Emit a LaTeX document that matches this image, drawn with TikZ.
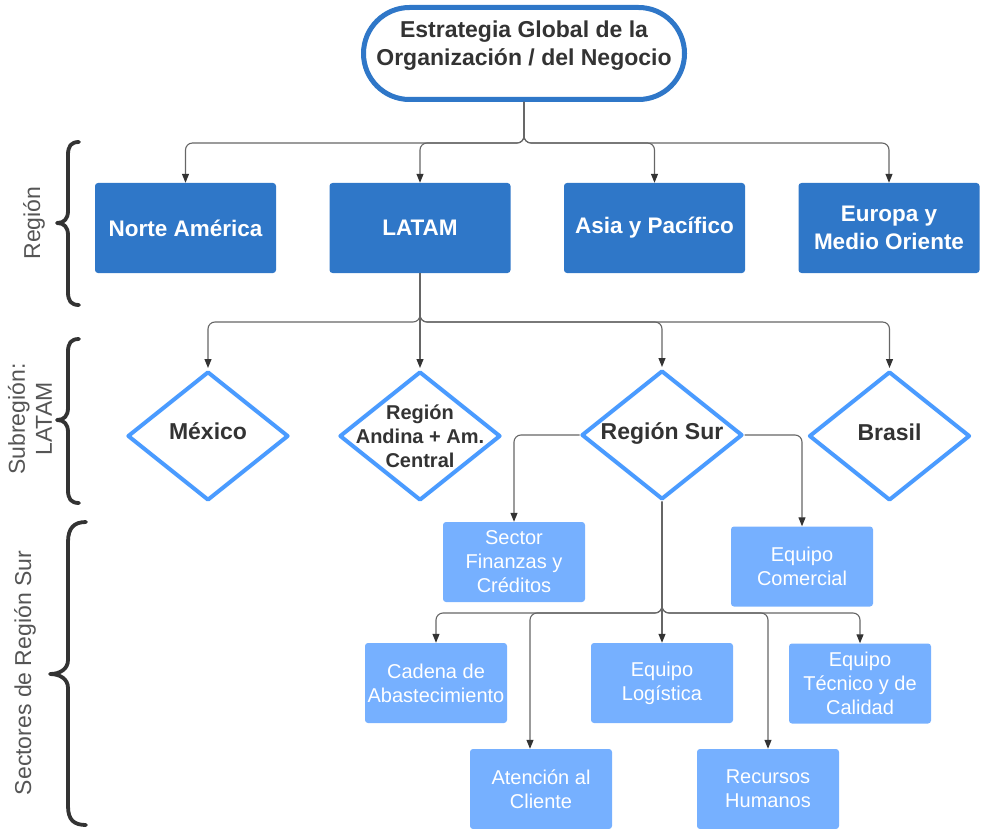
\documentclass[tikz,border=0pt]{standalone}
\usepackage{fontspec}
\setmainfont{Liberation Sans}
\usetikzlibrary{shapes.geometric,shapes.misc,arrows.meta}
\definecolor{deepblue}{HTML}{2F77C8}
\definecolor{lightblue}{HTML}{76B0FF}
\definecolor{edgeblue}{HTML}{4A9BFF}
\definecolor{ink}{HTML}{333333}
\definecolor{wire}{HTML}{666666}
\definecolor{sidegray}{HTML}{555555}

\begin{document}
\begin{tikzpicture}[x=1pt,y=-1pt,
  goal/.style={rounded rectangle, draw=deepblue, line width=5pt, fill=white,
    minimum width=321pt, minimum height=92pt, inner sep=0pt},
  goaltxt/.style={text=ink, font=\fontsize{23}{28}\selectfont\bfseries, align=center},
  regionbox/.style={rectangle, rounded corners=3pt, fill=deepblue,
    minimum width=181pt, minimum height=90pt, inner sep=2pt, text=white,
    font=\fontsize{22.5}{28}\selectfont\bfseries, align=center},
  dmd/.style={diamond, draw=edgeblue, line width=4pt, line join=round, fill=white,
    minimum width=161pt, minimum height=129pt, inner sep=0pt},
  dtxt/.style={text=ink, font=\fontsize{23}{28}\selectfont\bfseries, align=center, inner sep=0pt},
  dtxtsmall/.style={text=ink, font=\fontsize{20}{24}\selectfont\bfseries, align=center, inner sep=0pt},
  lightbox/.style={rectangle, rounded corners=3pt, fill=lightblue,
    minimum width=142pt, minimum height=80pt, inner sep=2pt, text=white,
    font=\fontsize{20}{24}\selectfont, align=center},
  conn/.style={draw=wire, line width=1.1pt, rounded corners=7pt,
    -{Triangle[length=9pt,width=7pt,color=ink]}},
  bracket/.style={draw=ink, line width=3.8pt, line cap=round, line join=round},
  sidelabel/.style={rotate=90, text=sidegray, font=\fontsize{23}{27}\selectfont, align=center}
]
\useasboundingbox (0,0) rectangle (982,829);

% top level
\node[goal] (goal) at (524,53.5) {};
\node[goaltxt] (goalT) at ([yshift=8pt]goal.center) {Estrategia Global de la\\Organización / del Negocio};

% regions
\node[regionbox] (nam)  at (185.5,228) {Norte América};
\node[regionbox] (lat)  at (420,228)   {LATAM};
\node[regionbox] (asia) at (654.5,228) {Asia y Pacífico};
\node[regionbox] (eur)  at (889,228)   {Europa y\\Medio Oriente};

% LATAM subregions
\node[dmd] (mex) at (208,436)   {};
\node[dmd] (and) at (420,436)   {};
\node[dmd] (sur) at (662,435)   {};
\node[dmd] (bra) at (889.5,436) {};
\node[dtxt, anchor=base] (mexT) at ([yshift=-3pt]mex.center) {México};
\node[dtxtsmall] (andT) at (and.center) {Región\\Andina + Am.\\Central};
\node[dtxt, anchor=base] (surT) at ([yshift=-4pt]sur.center) {Región Sur};
\node[dtxt, anchor=base] (braT) at ([yshift=-4pt]bra.center) {Brasil};

% sectors of Región Sur
\node[lightbox] (fin) at (514,562)   {Sector\\Finanzas y\\Créditos};
\node[lightbox] (com) at (802,566.5) {Equipo\\Comercial};
\node[lightbox] (cad) at (436,683)   {Cadena de\\Abastecimiento};
\node[lightbox] (log) at (662,683)   {Equipo\\Logística};
\node[lightbox] (tec) at (860,683.5) {Equipo\\Técnico y de\\Calidad};
\node[lightbox] (ate) at (541,789)   {Atención al\\Cliente};
\node[lightbox] (rec) at (768,789)   {Recursos\\Humanos};

% junction points
\coordinate (jtop) at (524,143);
\coordinate (jlat) at (420,322);
\coordinate (jsur) at (662,613);

% connectors
\draw[conn] (goal.south) -- (jtop) -| (nam.north);
\draw[conn] (goal.south) -- (jtop) -| (lat.north);
\draw[conn] (goal.south) -- (jtop) -| (asia.north);
\draw[conn] (goal.south) -- (jtop) -| (eur.north);

\draw[conn, shorten >=1.5pt] (lat.south) -- (jlat) -| (mex.north);
\draw[conn, shorten >=1.5pt] (lat.south) -- (and.north);
\draw[conn, shorten >=1.5pt] (lat.south) -- (jlat) -| (sur.north);
\draw[conn, shorten >=1.5pt] (lat.south) -- (jlat) -| (bra.north);

\draw[conn] (sur.west) -| (fin.north);
\draw[conn] (sur.east) -| (com.north);
\draw[conn] (sur.south) -- (jsur) -| (cad.north);
\draw[conn] (sur.south) -- (jsur) -| ([xshift=-11pt]ate.north);
\draw[conn] (sur.south) -- (log.north);
\draw[conn] (sur.south) -- (jsur) -| (rec.north);
\draw[conn] (sur.south) -- (jsur) -| (tec.north);

% side braces and their labels
\draw[bracket] (79,142) .. controls (71,142) and (68,146) .. (68,155) -- (68,211)
  .. controls (68,219) and (64,223) .. (57,223) .. controls (64,223) and (68,227) .. (68,235)
  -- (68,292) .. controls (68,301) and (71,305) .. (79,305);
\draw[bracket] (79,339) .. controls (71,339) and (68,343) .. (68,352) -- (68,408)
  .. controls (68,416) and (64,420) .. (57,420) .. controls (64,420) and (68,424) .. (68,432)
  -- (68,490) .. controls (68,499) and (71,503) .. (79,503);
\draw[bracket] (86,522) .. controls (74,522) and (68,528) .. (68,542) -- (68,660)
  .. controls (68,669) and (60,674) .. (50,674) .. controls (60,674) and (68,679) .. (68,688)
  -- (68,806) .. controls (68,820) and (74,825) .. (86,825);

\node[sidelabel] (lblreg) at (34,223) {Región};
\node[sidelabel] (lblsub) at (30,419) {Subregión:\\LATAM};
\node[sidelabel] (lblsec) at (25,673) {Sectores de Región Sur};
\end{tikzpicture}
\end{document}
